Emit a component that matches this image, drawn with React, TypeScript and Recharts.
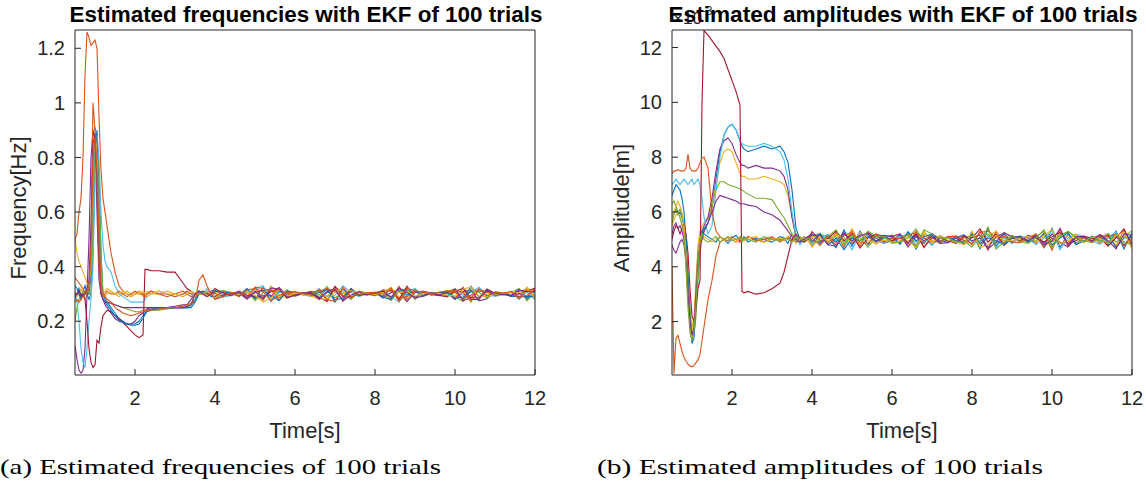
import React from "react";
import { LineChart, Line, XAxis, YAxis } from "recharts";

// time grid [s]: finer while the filter converges, then every 0.2 s
const timeS = [
  0.5, 0.55, 0.6, 0.65, 0.7, 0.75, 0.8, 0.85, 0.9, 0.95,
  1.0, 1.05, 1.1, 1.15, 1.2, 1.25, 1.3, 1.4, 1.5, 1.6,
  1.7, 1.8, 1.9, 2.0, 2.1, 2.2, 2.25, 2.3, 2.4, 2.6,
  2.8, 3.0, 3.2, 3.3, 3.4, 3.5, 3.6, 3.7, 3.8, 3.9,
  4.0, 4.2, 4.4, 4.6, 4.8, 5.0, 5.2, 5.4, 5.6, 5.8,
  6.0, 6.2, 6.4, 6.6, 6.8, 7.0, 7.2, 7.4, 7.6, 7.8,
  8.0, 8.2, 8.4, 8.6, 8.8, 9.0, 9.2, 9.4, 9.6, 9.8,
  10.0, 10.2, 10.4, 10.6, 10.8, 11.0, 11.2, 11.4, 11.6, 11.8, 12.0,
];
const timeTicks = [2, 4, 6, 8, 10, 12];

// estimated frequency [Hz], a sample of the trials
const freqTrial01 = [
  0.28, 0.3, 0.32, 0.29, 0.31, 0.33, 0.3, 0.28, 0.3, 0.45, 0.82, 0.9, 0.75, 0.45, 0.3, 0.28, 0.27, 0.25, 0.23, 0.21,
  0.2, 0.19, 0.19, 0.19, 0.2, 0.22, 0.23, 0.24, 0.245, 0.25, 0.25, 0.25, 0.25, 0.25, 0.26, 0.28, 0.3, 0.31, 0.3, 0.31,
  0.315, 0.292, 0.303, 0.294, 0.318, 0.28, 0.325, 0.272, 0.312, 0.29, 0.305, 0.298, 0.308, 0.285, 0.322, 0.27, 0.318, 0.288, 0.306, 0.298,
  0.304, 0.29, 0.32, 0.275, 0.315, 0.282, 0.306, 0.297, 0.304, 0.292, 0.315, 0.278, 0.328, 0.288, 0.315, 0.295, 0.302, 0.294, 0.318, 0.28, 0.312,
];
const freqTrial02 = [
  0.5, 0.52, 0.6, 0.65, 0.8, 1.1, 1.26, 1.24, 1.21, 1.22, 1.23, 1.2, 0.95, 0.75, 0.65, 0.6, 0.55, 0.45, 0.38, 0.33,
  0.31, 0.3, 0.29, 0.3, 0.31, 0.3, 0.29, 0.3, 0.31, 0.3, 0.29, 0.3, 0.31, 0.3, 0.29, 0.3, 0.31, 0.3, 0.31, 0.3,
  0.288, 0.306, 0.296, 0.308, 0.29, 0.322, 0.282, 0.315, 0.278, 0.312, 0.294, 0.303, 0.295, 0.318, 0.275, 0.32, 0.272, 0.315, 0.292, 0.303,
  0.295, 0.312, 0.282, 0.328, 0.28, 0.31, 0.292, 0.302, 0.295, 0.31, 0.282, 0.325, 0.285, 0.322, 0.29, 0.306, 0.297, 0.308, 0.285, 0.322, 0.282,
];
const freqTrial03 = [
  0.31, 0.29, 0.3, 0.32, 0.3, 0.28, 0.3, 0.32, 0.35, 0.6, 0.85, 0.88, 0.6, 0.35, 0.3, 0.31, 0.32, 0.31, 0.3, 0.29,
  0.3, 0.31, 0.3, 0.3, 0.31, 0.29, 0.3, 0.31, 0.3, 0.3, 0.31, 0.3, 0.29, 0.3, 0.31, 0.3, 0.3, 0.31, 0.3, 0.3,
  0.305, 0.31, 0.298, 0.292, 0.306, 0.312, 0.272, 0.33, 0.292, 0.286, 0.302, 0.303, 0.291, 0.308, 0.288, 0.325, 0.31, 0.282, 0.309, 0.301,
  0.297, 0.306, 0.324, 0.29, 0.274, 0.318, 0.296, 0.303, 0.302, 0.288, 0.306, 0.31, 0.27, 0.32, 0.305, 0.292, 0.299, 0.31, 0.295, 0.325, 0.29,
];
const freqTrial04 = [
  0.11, 0.06, 0.02, 0.01, 0.02, 0.1, 0.3, 0.5, 0.8, 0.9, 0.86, 0.6, 0.35, 0.3, 0.28, 0.26, 0.25, 0.23, 0.21, 0.2,
  0.195, 0.19, 0.19, 0.2, 0.22, 0.23, 0.24, 0.245, 0.25, 0.25, 0.25, 0.255, 0.26, 0.26, 0.28, 0.3, 0.31, 0.3, 0.29, 0.3,
  0.282, 0.296, 0.305, 0.303, 0.28, 0.305, 0.314, 0.29, 0.324, 0.295, 0.308, 0.296, 0.303, 0.28, 0.306, 0.312, 0.278, 0.32, 0.296, 0.297,
  0.306, 0.285, 0.305, 0.312, 0.272, 0.305, 0.31, 0.304, 0.294, 0.304, 0.28, 0.308, 0.314, 0.275, 0.282, 0.308, 0.304, 0.29, 0.302, 0.288, 0.32,
];
const freqTrial05 = [
  0.2, 0.25, 0.28, 0.3, 0.29, 0.3, 0.31, 0.3, 0.3, 0.5, 0.8, 0.88, 0.7, 0.45, 0.3, 0.29, 0.28, 0.27, 0.26, 0.255,
  0.25, 0.245, 0.24, 0.235, 0.235, 0.24, 0.24, 0.24, 0.24, 0.24, 0.245, 0.25, 0.25, 0.25, 0.26, 0.3, 0.31, 0.3, 0.29, 0.3,
  0.308, 0.312, 0.306, 0.29, 0.312, 0.275, 0.305, 0.32, 0.285, 0.315, 0.292, 0.301, 0.31, 0.295, 0.328, 0.285, 0.305, 0.28, 0.31, 0.304,
  0.294, 0.303, 0.275, 0.31, 0.32, 0.28, 0.305, 0.296, 0.306, 0.312, 0.29, 0.272, 0.32, 0.305, 0.285, 0.304, 0.303, 0.305, 0.32, 0.275, 0.305,
];
const freqTrial06 = [
  0.3, 0.27, 0.2, 0.1, 0.05, 0.03, 0.1, 0.2, 0.28, 0.4, 0.7, 0.85, 0.8, 0.6, 0.48, 0.42, 0.4, 0.38, 0.33, 0.3,
  0.29, 0.28, 0.27, 0.27, 0.27, 0.27, 0.28, 0.29, 0.3, 0.31, 0.3, 0.29, 0.3, 0.31, 0.3, 0.29, 0.31, 0.3, 0.32, 0.3,
  0.295, 0.288, 0.294, 0.305, 0.302, 0.318, 0.33, 0.28, 0.305, 0.308, 0.304, 0.297, 0.29, 0.32, 0.292, 0.295, 0.33, 0.305, 0.29, 0.302,
  0.296, 0.315, 0.29, 0.27, 0.308, 0.32, 0.29, 0.301, 0.303, 0.294, 0.32, 0.295, 0.305, 0.325, 0.295, 0.292, 0.296, 0.31, 0.28, 0.308, 0.278,
];
const freqTrial07 = [
  0.3, 0.3, 0.31, 0.29, 0.3, 0.28, 0.2, 0.1, 0.05, 0.03, 0.04, 0.13, 0.12, 0.18, 0.22, 0.23, 0.24, 0.235, 0.22, 0.21,
  0.195, 0.18, 0.165, 0.15, 0.14, 0.15, 0.39, 0.39, 0.385, 0.385, 0.38, 0.38, 0.34, 0.32, 0.31, 0.3, 0.3, 0.31, 0.3, 0.3,
  0.32, 0.302, 0.294, 0.31, 0.295, 0.29, 0.288, 0.308, 0.32, 0.285, 0.296, 0.304, 0.305, 0.288, 0.272, 0.328, 0.29, 0.31, 0.305, 0.296,
  0.302, 0.308, 0.315, 0.28, 0.328, 0.288, 0.308, 0.298, 0.294, 0.29, 0.31, 0.32, 0.28, 0.28, 0.318, 0.302, 0.301, 0.295, 0.31, 0.31, 0.322,
];
const freqTrial08 = [
  0.33, 0.32, 0.3, 0.28, 0.3, 0.31, 0.3, 0.3, 0.38, 0.7, 0.91, 0.85, 0.55, 0.33, 0.28, 0.27, 0.26, 0.24, 0.22, 0.205,
  0.195, 0.19, 0.185, 0.185, 0.19, 0.21, 0.225, 0.235, 0.24, 0.245, 0.25, 0.25, 0.25, 0.25, 0.25, 0.27, 0.3, 0.3, 0.31, 0.29,
  0.29, 0.308, 0.302, 0.295, 0.32, 0.285, 0.295, 0.295, 0.275, 0.31, 0.306, 0.299, 0.294, 0.305, 0.315, 0.278, 0.285, 0.32, 0.294, 0.303,
  0.305, 0.288, 0.28, 0.32, 0.295, 0.315, 0.294, 0.304, 0.305, 0.306, 0.285, 0.288, 0.31, 0.31, 0.31, 0.294, 0.302, 0.292, 0.29, 0.29, 0.292,
];
const freqTrial09 = [
  0.36, 0.35, 0.34, 0.33, 0.32, 0.3, 0.3, 0.32, 0.5, 1.0, 0.9, 0.7, 0.4, 0.3, 0.29, 0.3, 0.31, 0.3, 0.3, 0.31,
  0.3, 0.29, 0.3, 0.31, 0.3, 0.3, 0.29, 0.3, 0.31, 0.3, 0.3, 0.29, 0.3, 0.31, 0.3, 0.3, 0.31, 0.3, 0.3, 0.3,
  0.302, 0.29, 0.304, 0.308, 0.285, 0.325, 0.32, 0.312, 0.31, 0.305, 0.292, 0.302, 0.308, 0.31, 0.32, 0.31, 0.295, 0.285, 0.308, 0.299,
  0.294, 0.315, 0.31, 0.285, 0.29, 0.308, 0.31, 0.296, 0.297, 0.308, 0.305, 0.285, 0.295, 0.315, 0.305, 0.305, 0.298, 0.306, 0.282, 0.315, 0.315,
];
const freqTrial10 = [
  0.5, 0.45, 0.42, 0.4, 0.38, 0.36, 0.34, 0.33, 0.4, 0.75, 0.9, 0.8, 0.5, 0.32, 0.3, 0.29, 0.3, 0.31, 0.3, 0.3,
  0.31, 0.3, 0.29, 0.3, 0.3, 0.31, 0.3, 0.29, 0.3, 0.31, 0.3, 0.3, 0.29, 0.3, 0.31, 0.3, 0.3, 0.3, 0.31, 0.3,
  0.285, 0.304, 0.297, 0.298, 0.31, 0.295, 0.27, 0.285, 0.318, 0.292, 0.305, 0.298, 0.292, 0.282, 0.28, 0.305, 0.32, 0.312, 0.304, 0.304,
  0.298, 0.305, 0.318, 0.305, 0.31, 0.292, 0.302, 0.303, 0.302, 0.296, 0.292, 0.318, 0.325, 0.292, 0.292, 0.297, 0.304, 0.305, 0.305, 0.32, 0.285,
];
const freqTrial11 = [
  0.29, 0.3, 0.31, 0.3, 0.29, 0.3, 0.32, 0.35, 0.55, 0.85, 0.89, 0.7, 0.45, 0.3, 0.28, 0.27, 0.27, 0.265, 0.26, 0.255,
  0.25, 0.25, 0.25, 0.25, 0.25, 0.25, 0.25, 0.25, 0.25, 0.25, 0.25, 0.25, 0.25, 0.255, 0.26, 0.3, 0.31, 0.3, 0.29, 0.3,
  0.31, 0.305, 0.295, 0.307, 0.285, 0.31, 0.28, 0.322, 0.318, 0.288, 0.294, 0.303, 0.307, 0.28, 0.31, 0.318, 0.275, 0.295, 0.308, 0.297,
  0.305, 0.31, 0.288, 0.322, 0.305, 0.285, 0.292, 0.304, 0.296, 0.306, 0.318, 0.275, 0.288, 0.285, 0.312, 0.303, 0.297, 0.293, 0.315, 0.308, 0.31,
];
const freqTrial12 = [
  0.27, 0.28, 0.27, 0.28, 0.29, 0.3, 0.31, 0.33, 0.45, 0.8, 0.87, 0.75, 0.5, 0.33, 0.3, 0.29, 0.28, 0.27, 0.25, 0.24,
  0.23, 0.225, 0.22, 0.225, 0.23, 0.235, 0.24, 0.24, 0.24, 0.245, 0.25, 0.25, 0.255, 0.26, 0.265, 0.27, 0.35, 0.37, 0.33, 0.3,
  0.28, 0.29, 0.306, 0.29, 0.315, 0.32, 0.308, 0.275, 0.295, 0.303, 0.308, 0.302, 0.296, 0.315, 0.28, 0.272, 0.325, 0.29, 0.297, 0.304,
  0.306, 0.294, 0.322, 0.272, 0.32, 0.312, 0.306, 0.297, 0.306, 0.311, 0.312, 0.305, 0.272, 0.318, 0.294, 0.305, 0.302, 0.309, 0.288, 0.295, 0.318,
];

// estimated amplitude [x1e-3 m]
const ampTrial01 = [
  5.8, 6.0, 6.1, 5.9, 6.0, 5.8, 5.5, 4.8, 3.5, 2.2, 1.5, 1.6, 2.5, 3.8, 4.8, 5.2, 5.4, 5.6, 6.2, 7.2,
  8.2, 8.8, 9.1, 9.2, 9.0, 8.6, 8.4, 8.3, 8.2, 8.3, 8.4, 8.3, 8.4, 8.2, 7.8, 6.8, 5.4, 5.0, 4.9, 5.1,
  5.2, 4.85, 5.1, 4.7, 5.35, 4.75, 5.3, 4.8, 5.15, 4.9, 5.08, 4.85, 5.25, 4.65, 5.2, 4.8, 5.1, 4.92, 5.12, 4.85,
  5.25, 4.65, 5.4, 4.75, 5.2, 4.9, 5.08, 4.9, 5.15, 4.7, 5.4, 4.7, 5.2, 4.85, 5.08, 4.92, 5.12, 4.8, 5.3, 4.65, 5.25,
];
const ampTrial02 = [
  4.0, 0.1, 1.4, 1.5, 1.2, 0.9, 0.7, 0.55, 0.45, 0.38, 0.35, 0.4, 0.5, 0.6, 0.8, 1.3, 1.8, 2.8, 3.5, 4.4,
  4.9, 5.0, 5.1, 5.0, 4.9, 5.05, 5.0, 4.95, 5.1, 5.0, 4.9, 5.05, 5.0, 4.95, 5.1, 5.0, 4.9, 5.05, 5.0, 5.1,
  4.75, 5.2, 4.85, 5.25, 4.7, 5.35, 4.75, 5.25, 4.9, 5.12, 4.9, 5.15, 4.8, 5.3, 4.7, 5.15, 4.88, 5.1, 4.92, 5.12,
  4.8, 5.3, 4.6, 5.3, 4.85, 5.12, 4.9, 5.12, 4.85, 5.25, 4.6, 5.35, 4.75, 5.12, 4.9, 5.1, 4.85, 5.2, 4.75, 5.35, 4.7,
];
const ampTrial03 = [
  5.5, 5.7, 5.9, 6.0, 5.8, 5.6, 5.2, 4.0, 2.8, 2.0, 1.8, 2.2, 3.5, 4.8, 5.3, 5.5, 5.6, 5.8, 6.2, 7.0,
  7.8, 8.2, 8.3, 8.2, 7.8, 7.4, 7.3, 7.3, 7.2, 7.2, 7.3, 7.2, 7.1, 7.0, 6.6, 5.8, 5.0, 4.9, 5.1, 5.0,
  5.1, 5.05, 4.92, 5.2, 4.9, 5.38, 4.85, 5.1, 4.82, 5.05, 5.12, 4.95, 5.1, 4.8, 5.3, 4.95, 5.08, 5.05, 4.88, 5.05,
  5.15, 4.8, 5.1, 5.3, 4.95, 5.08, 4.96, 5.1, 4.9, 5.1, 4.75, 5.2, 5.1, 4.82, 5.04, 5.06, 4.9, 5.08, 4.8, 5.15, 4.95,
];
const ampTrial04 = [
  5.2, 5.5, 5.6, 5.4, 5.5, 5.3, 5.0, 4.5, 3.2, 1.8, 1.3, 1.8, 3.2, 4.5, 5.0, 5.3, 5.5, 5.8, 6.5, 7.5,
  8.3, 8.6, 8.7, 8.5, 8.1, 7.8, 7.7, 7.7, 7.6, 7.7, 7.6, 7.6, 7.5, 7.3, 6.8, 5.8, 5.1, 4.9, 5.0, 5.1,
  4.95, 4.9, 5.15, 4.9, 5.25, 4.85, 5.1, 5.25, 5.05, 4.86, 4.95, 5.18, 4.72, 5.1, 4.85, 5.22, 4.95, 4.9, 5.05, 4.82,
  5.08, 5.15, 4.7, 5.1, 5.22, 4.86, 5.1, 4.95, 5.18, 4.85, 5.2, 4.9, 4.72, 5.05, 4.9, 5.04, 5.15, 4.9, 5.1, 4.8, 5.15,
];
const ampTrial05 = [
  6.3, 6.4, 6.2, 6.0, 6.1, 5.9, 5.6, 5.0, 3.8, 2.5, 1.6, 1.5, 2.2, 3.5, 4.5, 5.0, 5.3, 5.6, 6.2, 6.8,
  7.1, 7.1, 7.0, 6.95, 6.9, 6.85, 6.8, 6.75, 6.65, 6.5, 6.5, 6.45, 6.0, 5.8, 5.5, 5.2, 5.0, 5.1, 4.9, 5.0,
  5.15, 5.2, 5.05, 5.1, 4.8, 5.1, 5.05, 4.72, 5.1, 5.08, 4.86, 4.9, 5.05, 5.38, 4.9, 5.1, 4.85, 5.08, 5.14, 4.95,
  4.72, 5.1, 5.2, 4.85, 5.1, 5.14, 5.05, 4.86, 5.1, 5.3, 4.9, 5.15, 5.28, 5.1, 4.95, 4.88, 5.05, 5.22, 4.9, 5.1, 5.32,
];
const ampTrial06 = [
  7.0, 7.1, 7.2, 7.1, 7.0, 7.1, 7.2, 7.1, 7.0, 7.1, 7.2, 7.0, 7.1, 7.2, 7.0, 6.5, 5.8, 5.2, 5.5, 6.8,
  8.0, 8.8, 9.1, 9.2, 9.0, 8.6, 8.5, 8.45, 8.4, 8.4, 8.5, 8.4, 8.2, 7.9, 7.2, 6.0, 5.1, 4.8, 5.0, 5.1,
  4.8, 5.05, 5.18, 4.95, 5.1, 4.62, 5.2, 5.15, 4.95, 4.85, 5.05, 5.1, 5.18, 4.9, 5.05, 4.78, 5.14, 4.88, 5.05, 5.18,
  4.9, 4.95, 5.15, 4.7, 5.05, 4.85, 5.12, 5.05, 4.8, 5.05, 5.3, 4.62, 5.05, 5.18, 5.12, 4.95, 4.82, 5.05, 5.25, 4.85, 4.9,
];
const ampTrial07 = [
  5.0, 5.3, 5.5, 5.4, 5.2, 5.4, 5.6, 5.2, 4.5, 3.2, 2.2, 2.0, 2.5, 3.2, 3.5, 10.0, 12.62, 12.45, 12.25, 12.05,
  11.85, 11.6, 11.2, 10.8, 10.4, 9.9, 3.1, 3.05, 3.1, 3.0, 3.05, 3.2, 3.4, 3.8, 4.4, 5.0, 5.2, 5.0, 4.9, 5.0,
  5.28, 4.95, 5.03, 5.3, 4.95, 5.2, 4.68, 5.05, 5.18, 5.12, 4.95, 5.05, 4.9, 5.2, 4.72, 5.05, 5.05, 4.95, 4.85, 5.1,
  5.05, 5.38, 4.9, 5.2, 4.78, 5.05, 4.95, 5.15, 5.05, 4.9, 5.1, 5.25, 4.85, 4.95, 5.12, 5.03, 5.08, 4.75, 5.05, 5.38, 4.8,
];
const ampTrial08 = [
  6.6, 6.8, 7.0, 6.9, 6.8, 6.5, 6.0, 5.0, 3.5, 2.0, 1.2, 1.4, 2.8, 4.2, 5.0, 5.3, 5.2, 5.1, 5.0, 4.9,
  5.1, 5.0, 4.85, 5.05, 5.15, 4.95, 5.0, 5.1, 4.9, 5.05, 5.0, 4.9, 5.1, 5.05, 4.85, 5.2, 4.9, 4.95, 5.1, 5.0,
  4.9, 5.22, 4.8, 5.05, 4.62, 5.05, 4.95, 5.1, 4.95, 5.05, 5.15, 4.82, 5.28, 4.95, 5.1, 5.18, 4.9, 5.12, 4.95, 4.9,
  5.2, 4.85, 5.05, 4.95, 4.82, 5.05, 5.12, 4.92, 4.95, 5.2, 4.8, 5.05, 5.25, 4.8, 4.95, 5.12, 4.95, 5.15, 4.7, 5.05, 5.1,
];
const ampTrial09 = [
  7.4, 7.5, 7.5, 7.55, 7.5, 7.5, 7.5, 7.6, 8.1, 7.6, 7.5, 7.5, 7.5, 7.6, 7.8, 7.95, 8.0, 7.6, 6.0, 5.3,
  5.1, 5.0, 4.95, 5.1, 5.0, 4.9, 5.05, 5.0, 5.1, 4.95, 5.0, 5.1, 4.9, 5.0, 5.05, 4.9, 5.1, 5.0, 4.95, 5.05,
  5.05, 4.78, 5.12, 4.8, 5.15, 5.25, 4.9, 4.85, 5.2, 4.92, 5.03, 5.05, 5.15, 5.25, 5.05, 4.9, 4.92, 5.1, 5.1, 4.97,
  4.85, 5.25, 5.3, 5.05, 5.1, 4.9, 4.88, 5.03, 5.2, 4.7, 5.05, 4.85, 4.9, 5.05, 5.05, 4.9, 5.15, 5.1, 5.2, 4.75, 5.05,
];
const ampTrial10 = [
  5.8, 6.0, 6.2, 6.4, 6.2, 6.0, 5.5, 4.5, 3.0, 1.8, 1.4, 1.9, 3.2, 4.4, 5.0, 5.2, 5.1, 5.0, 4.9, 5.0,
  5.1, 4.95, 5.05, 5.0, 4.9, 5.1, 5.0, 4.95, 5.05, 5.1, 4.9, 5.0, 5.05, 4.95, 5.1, 5.2, 4.85, 5.0, 5.1, 4.95,
  4.72, 5.1, 4.95, 5.15, 5.05, 4.9, 5.25, 4.95, 4.85, 4.97, 4.92, 4.92, 4.95, 4.7, 5.2, 4.85, 5.15, 4.97, 4.9, 4.8,
  5.3, 4.7, 4.8, 5.15, 4.95, 4.95, 5.03, 5.12, 4.92, 5.15, 5.35, 4.85, 4.95, 5.2, 4.88, 5.08, 5.05, 4.85, 5.15, 5.25, 4.65,
];
const ampTrial11 = [
  4.8, 4.6, 4.5, 4.7, 4.9, 5.0, 4.8, 4.2, 3.0, 2.0, 1.5, 1.8, 3.0, 4.2, 4.8, 5.0, 5.3, 5.6, 6.0, 6.4,
  6.6, 6.55, 6.5, 6.45, 6.4, 6.3, 6.3, 6.3, 6.25, 6.2, 6.0, 5.9, 5.7, 5.5, 5.3, 5.1, 5.0, 4.9, 5.0, 5.1,
  5.15, 5.15, 4.8, 4.75, 5.2, 4.95, 5.15, 5.2, 4.9, 5.15, 5.1, 5.2, 4.85, 5.15, 4.95, 5.1, 4.85, 4.88, 5.05, 5.15,
  4.95, 5.05, 4.65, 4.9, 5.25, 5.1, 5.08, 4.95, 5.1, 4.8, 4.95, 5.4, 4.8, 5.1, 5.1, 4.95, 5.18, 4.95, 4.65, 5.2, 5.15,
];
const ampTrial12 = [
  5.6, 5.9, 6.1, 6.0, 5.8, 5.5, 5.2, 4.0, 2.5, 1.6, 1.3, 1.6, 2.6, 4.0, 4.9, 5.2, 5.0, 4.9, 5.0, 5.1,
  4.9, 5.0, 5.1, 4.95, 5.0, 5.1, 4.9, 5.05, 5.0, 4.9, 5.1, 5.0, 4.95, 5.05, 5.0, 4.9, 5.1, 5.0, 4.95, 5.05,
  4.85, 4.95, 5.1, 5.35, 4.85, 5.15, 4.95, 5.3, 5.12, 5.1, 4.88, 4.9, 5.2, 4.75, 5.35, 5.2, 5.05, 5.05, 4.9, 4.9,
  5.15, 4.9, 5.45, 4.65, 4.9, 5.15, 4.92, 4.85, 5.05, 5.35, 4.7, 5.1, 5.3, 5.05, 4.92, 5.1, 4.97, 4.88, 5.2, 4.9, 4.8,
];

const freqTicks = [0.2, 0.4, 0.6, 0.8, 1, 1.2];
const ampTicks = [2, 4, 6, 8, 10, 12];

const freqTrials = [
  freqTrial01, freqTrial02, freqTrial03, freqTrial04, freqTrial05, freqTrial06,
  freqTrial07, freqTrial08, freqTrial09, freqTrial10, freqTrial11, freqTrial12,
];
const ampTrials = [
  ampTrial01, ampTrial02, ampTrial03, ampTrial04, ampTrial05, ampTrial06,
  ampTrial07, ampTrial08, ampTrial09, ampTrial10, ampTrial11, ampTrial12,
];

// matlab default line colour order
const freqColors = [
  "#0072BD", "#D95319", "#EDB120", "#7E2F8E", "#77AC30", "#4DBEEE",
  "#A2142F", "#0072BD", "#D95319", "#EDB120", "#7E2F8E", "#D95319",
];
const ampColors = [
  "#0072BD", "#D95319", "#EDB120", "#7E2F8E", "#77AC30", "#4DBEEE",
  "#A2142F", "#0072BD", "#D95319", "#EDB120", "#7E2F8E", "#77AC30",
];

const toRows = (trials: number[][]) =>
  timeS.map((t, i) => {
    const row: Record<string, number> = { t };
    trials.forEach((s, k) => {
      row[`s${k}`] = s[i];
    });
    return row;
  });

const freqRows = toRows(freqTrials);
const ampRows = toRows(ampTrials);

const axisColor = "#262626";
const sansFont = "'Liberation Sans', Arial, sans-serif";
const tickStyle = { fill: axisColor, fontSize: 20, fontFamily: sansFont };

type PanelProps = {
  rows: Record<string, number>[];
  count: number;
  colors: string[];
  yDomain: [number, number];
  yTicks: number[];
  left: number;
  width: number;
  yAxisWidth: number;
  rightMargin: number;
};

const Panel = ({ rows, count, colors, yDomain, yTicks, left, width, yAxisWidth, rightMargin }: PanelProps) => (
  <div style={{ position: "absolute", left, top: 0 }}>
    <LineChart width={width} height={420} data={rows} margin={{ top: 29, right: rightMargin, bottom: 0, left: 0 }}>
      <XAxis
        xAxisId="b"
        dataKey="t"
        type="number"
        domain={[0.5, 12]}
        ticks={timeTicks}
        allowDataOverflow
        height={45}
        tickSize={-6}
        tickMargin={22}
        stroke={axisColor}
        tick={tickStyle}
      />
      <XAxis
        xAxisId="top"
        orientation="top"
        dataKey="t"
        type="number"
        domain={[0.5, 12]}
        ticks={timeTicks}
        allowDataOverflow
        height={1}
        tickSize={-6}
        tick={false}
        stroke={axisColor}
      />
      <YAxis
        yAxisId="l"
        type="number"
        domain={yDomain}
        ticks={yTicks}
        allowDataOverflow
        width={yAxisWidth}
        tickSize={-6}
        tickMargin={16}
        stroke={axisColor}
        tick={tickStyle}
      />
      <YAxis
        yAxisId="r"
        orientation="right"
        type="number"
        domain={yDomain}
        ticks={yTicks}
        allowDataOverflow
        width={1}
        tickSize={-6}
        tick={false}
        stroke={axisColor}
      />
      {Array.from({ length: count }, (_, k) => (
        <Line
          key={k}
          xAxisId="b"
          yAxisId="l"
          type="linear"
          dataKey={`s${k}`}
          stroke={colors[k]}
          strokeWidth={1.1}
          dot={false}
          isAnimationActive={false}
        />
      ))}
    </LineChart>
  </div>
);

const App = () => {
  return (
    <div style={{ position: "absolute", left: 0, top: 0, width: 1146, height: 489, background: "#fff" }}>
      <Panel
        rows={freqRows}
        count={freqTrials.length}
        colors={freqColors}
        yDomain={[0.003, 1.267]}
        yTicks={freqTicks}
        left={0}
        width={573}
        yAxisWidth={75}
        rightMargin={37}
      />
      <Panel
        rows={ampRows}
        count={ampTrials.length}
        colors={ampColors}
        yDomain={[0.05, 12.64]}
        yTicks={ampTicks}
        left={596}
        width={550}
        yAxisWidth={76}
        rightMargin={13}
      />
      <svg width={1146} height={489} style={{ position: "absolute", left: 0, top: 0, pointerEvents: "none" }}>
        <text x={673} y={24} fontSize={17} fill={axisColor} fontFamily={sansFont}>
          ×10<tspan dy={-9} fontSize={12}>-3</tspan>
        </text>
        <text x={306} y={21.5} textAnchor="middle" fontSize={22} fontWeight="bold" fontFamily={sansFont} fill="#000" textLength={473} lengthAdjust="spacingAndGlyphs">
          Estimated frequencies with EKF of 100 trials
        </text>
        <text x={903} y={21.5} textAnchor="middle" fontSize={22} fontWeight="bold" fontFamily={sansFont} fill="#000" textLength={469} lengthAdjust="spacingAndGlyphs">
          Estimated amplitudes with EKF of 100 trials
        </text>
        <text x={305} y={438} textAnchor="middle" fontSize={22} fontFamily={sansFont} fill={axisColor}>Time[s]</text>
        <text x={902} y={438} textAnchor="middle" fontSize={22} fontFamily={sansFont} fill={axisColor}>Time[s]</text>
        <text transform="translate(26,208) rotate(-90)" textAnchor="middle" fontSize={22} fontFamily={sansFont} fill={axisColor}>Frequency[Hz]</text>
        <text transform="translate(629,208) rotate(-90)" textAnchor="middle" fontSize={22} fontFamily={sansFont} fill={axisColor}>Amplitude[m]</text>
        <text x={0} y={474} fontSize={22} fontFamily="'Liberation Serif', serif" fill="#000" textLength={441} lengthAdjust="spacingAndGlyphs">
          (a) Estimated frequencies of 100 trials
        </text>
        <text x={597} y={474} fontSize={22} fontFamily="'Liberation Serif', serif" fill="#000" textLength={446} lengthAdjust="spacingAndGlyphs">
          (b) Estimated amplitudes of 100 trials
        </text>
      </svg>
    </div>
  );
};

export default App;
